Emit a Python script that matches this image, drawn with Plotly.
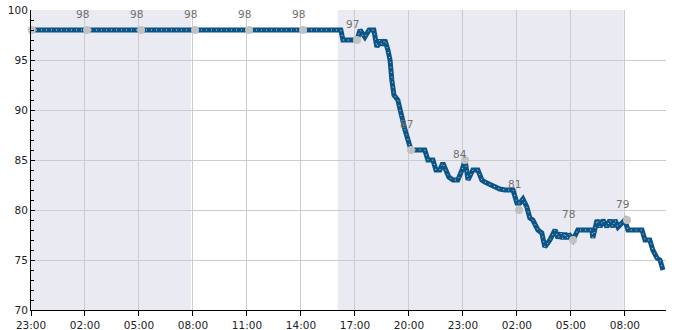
import plotly.graph_objects as go

# ---- data ----
line_times = [
    "2024-01-01 23:00", "2024-01-02 16:13", "2024-01-02 16:20", "2024-01-02 17:07",
    "2024-01-02 17:17", "2024-01-02 17:27", "2024-01-02 17:33", "2024-01-02 17:47",
    "2024-01-02 18:03", "2024-01-02 18:13", "2024-01-02 18:23", "2024-01-02 18:30",
    "2024-01-02 18:40", "2024-01-02 18:50", "2024-01-02 18:57", "2024-01-02 19:03",
    "2024-01-02 19:10", "2024-01-02 19:23", "2024-01-02 19:30", "2024-01-02 19:37",
    "2024-01-02 19:47", "2024-01-02 19:57", "2024-01-02 20:07", "2024-01-02 20:53",
    "2024-01-02 21:03", "2024-01-02 21:20", "2024-01-02 21:30", "2024-01-02 21:43",
    "2024-01-02 21:53", "2024-01-02 22:03", "2024-01-02 22:13", "2024-01-02 22:27",
    "2024-01-02 22:43", "2024-01-02 22:57", "2024-01-02 23:07", "2024-01-02 23:17",
    "2024-01-02 23:23", "2024-01-02 23:33", "2024-01-02 23:50", "2024-01-03 00:03",
    "2024-01-03 00:13", "2024-01-03 01:03", "2024-01-03 01:20", "2024-01-03 01:47",
    "2024-01-03 02:00", "2024-01-03 02:10", "2024-01-03 02:20", "2024-01-03 02:33",
    "2024-01-03 02:43", "2024-01-03 02:53", "2024-01-03 03:10", "2024-01-03 03:23",
    "2024-01-03 03:33", "2024-01-03 03:50", "2024-01-03 04:07", "2024-01-03 04:17",
    "2024-01-03 04:27", "2024-01-03 04:33", "2024-01-03 04:40", "2024-01-03 04:47",
    "2024-01-03 04:53", "2024-01-03 05:07", "2024-01-03 05:23", "2024-01-03 06:10",
    "2024-01-03 06:13", "2024-01-03 06:27", "2024-01-03 06:37", "2024-01-03 06:47",
    "2024-01-03 07:00", "2024-01-03 07:10", "2024-01-03 07:20", "2024-01-03 07:27",
    "2024-01-03 07:37", "2024-01-03 07:50", "2024-01-03 08:00", "2024-01-03 08:10",
    "2024-01-03 08:57", "2024-01-03 09:07", "2024-01-03 09:23", "2024-01-03 09:33",
    "2024-01-03 09:47", "2024-01-03 09:57", "2024-01-03 10:07",
]
line_values = [
    98, 98, 97, 97,
    98, 97.4, 97.3, 98,
    98, 96.3, 97, 96.5,
    97, 96, 95, 93,
    91.5, 91, 90, 89,
    88, 87, 86, 86,
    85, 85, 84, 84,
    84.7, 84, 83.3, 83,
    83, 84, 85, 83,
    83.3, 84, 84, 83,
    82.8, 82.1, 82, 82,
    80.7, 80.7, 81.1, 80.3,
    79.2, 79, 78, 77.7,
    76.3, 77, 78, 77.2,
    77.7, 77.1, 77.7, 77.1,
    77.6, 77, 78, 78,
    77.2, 79, 78.3, 79,
    78.3, 79, 78.3, 79,
    78.3, 78.8, 79, 78,
    78, 77, 77, 76,
    75.2, 75, 74,
]

marker_times = [
    "2024-01-01 23:03", "2024-01-02 02:07", "2024-01-02 05:07", "2024-01-02 08:07",
    "2024-01-02 11:07", "2024-01-02 14:07", "2024-01-02 17:07", "2024-01-02 20:07",
    "2024-01-02 23:07", "2024-01-03 02:07", "2024-01-03 05:07", "2024-01-03 08:07",
]
marker_values = [98, 98, 98, 98, 98, 98, 97, 86, 85, 80, 77, 79]
label_texts = ["", "98", "98", "98", "98", "98", "97", "87", "84", "81", "78", "79"]
label_values = [98, 98, 98, 98, 98, 98, 97, 87, 84, 81, 78, 79]

shade_starts = ["2024-01-01 23:00", "2024-01-02 16:03"]
shade_ends = ["2024-01-02 07:53", "2024-01-03 07:56"]

x_start = "2024-01-01 23:00"
x_end = "2024-01-03 10:17"
y_min, y_max = 70, 100

fig = go.Figure()

for s, e in zip(shade_starts, shade_ends):
    fig.add_shape(type="rect", xref="x", yref="y", x0=s, x1=e, y0=y_min, y1=y_max,
                  fillcolor="#eaeaf2", line_width=0, layer="below")

fig.add_trace(go.Scatter(x=line_times, y=line_values, mode="lines",
                         line=dict(color="#0b5485", width=5), hoverinfo="skip",
                         showlegend=False))
fig.add_trace(go.Scatter(x=line_times, y=line_values, mode="lines",
                         line=dict(color="#c8dcec", width=1, dash="1px,4px"),
                         hoverinfo="skip", showlegend=False))
fig.add_trace(go.Scatter(x=marker_times, y=marker_values, mode="markers",
                         marker=dict(color="#c2c2c2", size=8), cliponaxis=False,
                         showlegend=False))

for t, v, txt in zip(marker_times, label_values, label_texts):
    if txt:
        fig.add_annotation(x=t, y=v, text=txt, showarrow=False, xshift=-5, yshift=16,
                           font=dict(family="DejaVu Sans", size=10.5, color="#707070"))

fig.update_layout(
    width=685, height=330,
    margin=dict(l=31, r=19, t=10, b=20),
    paper_bgcolor="white", plot_bgcolor="white",
    font=dict(family="DejaVu Sans", size=10.5, color="#222222"),
    showlegend=False,
)
fig.update_xaxes(
    range=[x_start, x_end], type="date", automargin=False,
    tick0="2024-01-01 23:00", dtick=3 * 3600 * 1000, tickformat="%H:%M",
    showgrid=True, gridcolor="#cccccc", gridwidth=1,
    showline=True, linecolor="black", linewidth=1,
    ticks="outside", ticklen=5, tickcolor="black",
    zeroline=False,
)
fig.update_yaxes(
    range=[y_min, y_max], dtick=5, automargin=False,
    showgrid=True, gridcolor="#cccccc", gridwidth=1,
    showline=True, linecolor="black", linewidth=1,
    ticks="inside", ticklen=4, tickcolor="black",
    minor=dict(dtick=1, ticks="inside", ticklen=3, tickcolor="black", showgrid=False),
    zeroline=False,
)

fig.write_html("out.html")
